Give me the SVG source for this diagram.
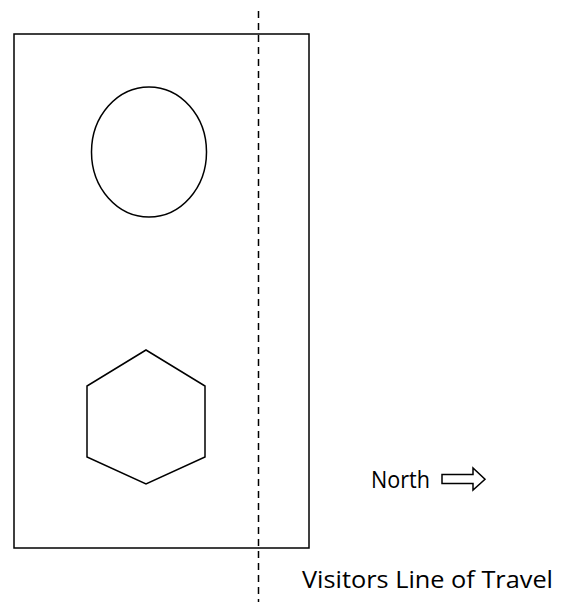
<svg xmlns="http://www.w3.org/2000/svg" width="566" height="602" viewBox="0 0 566 602">
<style>
.s{fill:none;stroke:#000;stroke-width:1.5}
.t{font-family:"Open Sans","Liberation Sans",sans-serif;font-size:24px;fill:#000}
</style>
<rect width="566" height="602" fill="#fff"/>
<g id="area"><rect class="s" x="14" y="34" width="295" height="514"/></g>
<g id="ellipse"><ellipse class="s" cx="149" cy="152" rx="57.5" ry="65"/></g>
<g id="hexagon"><polygon class="s" points="146,350 205,386 205,457 146,484 87,457 87,386"/></g>
<g id="connectors">
<line x1="258.5" y1="11" x2="258.5" y2="602" stroke="#000" stroke-width="1.5" stroke-dasharray="7,5"/>
<polygon class="s" points="442,474.5 473,474.5 473,468 485,479.3 473,490 473,483.5 442,483.5"/>
</g>
<g id="labels">
<text class="t" x="371" y="488" textLength="59" lengthAdjust="spacingAndGlyphs">North</text>
<text class="t" x="302" y="588" textLength="251" lengthAdjust="spacingAndGlyphs">Visitors Line of Travel</text>
</g>
</svg>
